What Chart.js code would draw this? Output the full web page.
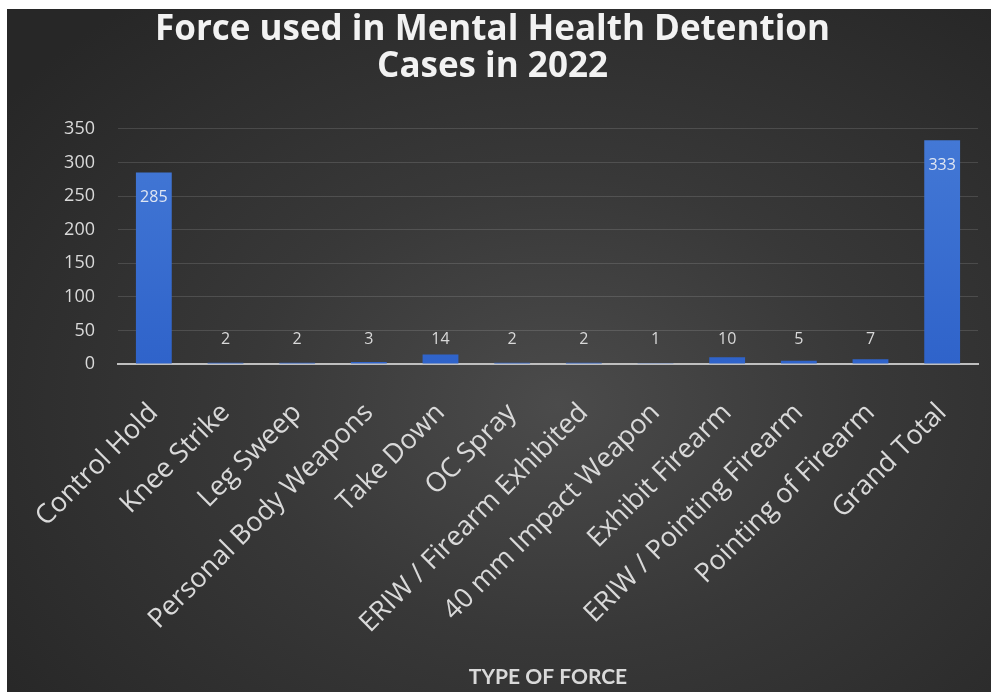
<!DOCTYPE html>
<html>
<head>
<meta charset="utf-8">
<script src="https://cdn.jsdelivr.net/npm/chart.js@4.4.0/dist/chart.umd.min.js"></script>
<style>
  html, body { margin: 0; padding: 0; background: #fff; }
  #wrap {
    position: absolute; left: 7px; top: 9px; width: 984px; height: 683px;
    background: radial-gradient(ellipse 70% 75% at 56% 58%, #4b4b4b 0%, #383838 45%, #272727 100%);
  }
</style>
</head>
<body>
<div id="wrap"><canvas id="myChart"></canvas></div>
<script>
const forceTypes = ["Control Hold", "Knee Strike", "Leg Sweep", "Personal Body Weapons", "Take Down",
  "OC Spray", "ERIW / Firearm Exhibited", "40 mm Impact Weapon", "Exhibit Firearm",
  "ERIW / Pointing Firearm", "Pointing of Firearm", "Grand Total"];
const caseCounts = [285, 2, 2, 3, 14, 2, 2, 1, 10, 5, 7, 333];
const yTicks = [0, 50, 100, 150, 200, 250, 300, 350];

// etiquetas de datos (sin plugin externo)
const barLabels = {
  id: 'barLabels',
  afterDatasetsDraw(chart) {
    const ctx = chart.ctx;
    const meta = chart.getDatasetMeta(0);
    ctx.save();
    ctx.font = '16px "Open Sans"';
    ctx.textAlign = 'center';
    ctx.textBaseline = 'middle';
    meta.data.forEach(function(bar, i) {
      const v = caseCounts[i];
      const h = bar.base - bar.y;
      if (h > 60) {
        ctx.fillStyle = '#dfe6f3';
        ctx.fillText(v, bar.x, bar.y + 25);
      } else {
        ctx.fillStyle = '#d9d9d9';
        ctx.fillText(v, bar.x, Math.min(bar.y - 14, bar.base - 24));
      }
    });
    ctx.restore();
  }
};

const myChart = new Chart("myChart", {
  type: "bar",
  data: {
    labels: forceTypes,
    datasets: [{
      label: 'Cases',
      data: caseCounts,
      backgroundColor: function(context) {
        const area = context.chart.chartArea;
        if (!area) return '#3a6fd2';
        const g = context.chart.ctx.createLinearGradient(0, area.top, 0, area.bottom);
        g.addColorStop(0, '#4479d6');
        g.addColorStop(1, '#2f63ca');
        return g;
      },
      barPercentage: 0.5,
      categoryPercentage: 1.0
    }]
  },
  plugins: [barLabels],
  options: {
    responsive: true,
    maintainAspectRatio: false,
    animation: false,
    layout: { padding: { left: 0, right: 13, top: 0, bottom: 0 } },
    plugins: {
      legend: { display: false },
      tooltip: { enabled: false },
      title: {
        display: true,
        text: ['Force used in Mental Health Detention', 'Cases in 2022'],
        color: '#f2f2f2',
        font: { family: 'Open Sans', size: 35, weight: 'bold', lineHeight: 1.07 },
        padding: { top: 2, bottom: 43 }
      }
    },
    scales: {
      y: {
        min: 0,
        max: 350,
        afterFit(scale) { scale.width = 111; },
        afterBuildTicks(scale) { scale.ticks = yTicks.map(v => ({ value: v })); },
        border: { display: false },
        grid: { color: 'rgba(255,255,255,0.13)', lineWidth: 1, drawTicks: false },
        ticks: {
          color: '#d9d9d9',
          padding: 23,
          font: { family: 'Open Sans', size: 18 }
        }
      },
      x: {
        afterFit(scale) { scale.height = 328; },
        border: { display: true, color: '#bfbfbf', width: 2 },
        grid: { display: false },
        ticks: {
          color: '#d9d9d9',
          minRotation: 45,
          maxRotation: 45,
          autoSkip: false,
          padding: 25,
          font: { family: 'Open Sans', size: 27 }
        },
        title: {
          display: true,
          text: 'TYPE OF FORCE',
          color: '#d9d9d9',
          font: { family: 'Lato', size: 21, weight: 'bold' },
          padding: { top: 0, bottom: 2 }
        }
      }
    }
  }
});
</script>
</body>
</html>
